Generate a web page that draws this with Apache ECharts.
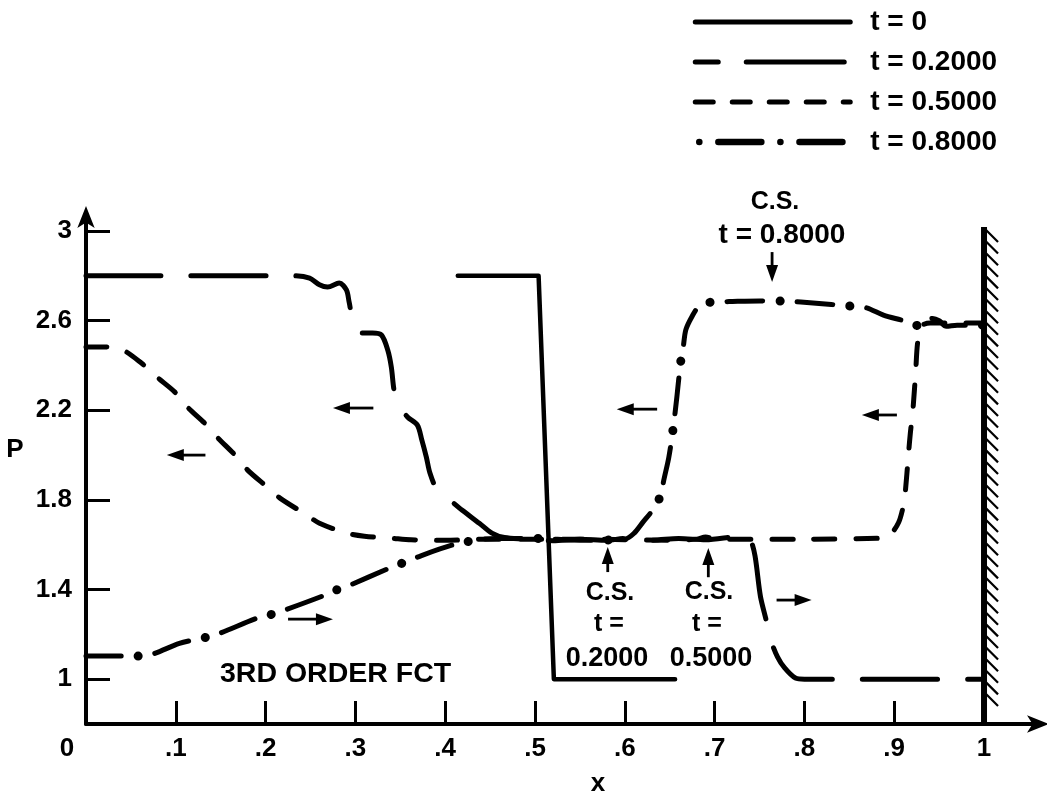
<!DOCTYPE html>
<html><head><meta charset="utf-8">
<script src="https://cdn.jsdelivr.net/npm/echarts@6/dist/echarts.min.js"></script>
<style>html,body{margin:0;padding:0;background:#fff}#c{width:1047px;height:792px}</style>
</head><body><div id="c"></div>
<script>
const seriesNames = ['t = 0', 't = 0.2000', 't = 0.5000', 't = 0.8000'];
const pT0 = [[0.414,2.8],[0.504,2.8],[0.521,1.0],[0.656,1.0]];
const pT02 = [[0,2.8],[0.232,2.8],[0.249,2.79],[0.26,2.76],[0.269,2.75],[0.282,2.768],[0.29,2.737],[0.293,2.683],[0.299,2.571],[0.308,2.545],[0.319,2.545],[0.329,2.536],[0.336,2.469],[0.34,2.393],[0.343,2.29],[0.347,2.23],[0.358,2.17],[0.369,2.134],[0.374,2.067],[0.379,1.991],[0.383,1.92],[0.391,1.844],[0.401,1.813],[0.419,1.754],[0.438,1.696],[0.452,1.652],[0.466,1.632],[0.49,1.625],[0.52,1.618],[0.55,1.625],[0.58,1.62],[0.6,1.628],[0.63,1.62],[0.66,1.628],[0.69,1.622],[0.72,1.635],[0.733,1.64],[0.74,1.62],[0.745,1.55],[0.751,1.37],[0.757,1.27],[0.763,1.17],[0.77,1.1],[0.778,1.05],[0.79,1.005],[0.8,1.0],[1.0,1.0]];
const pT05 = [[0,2.482],[0.021,2.482],[0.038,2.475],[0.062,2.41],[0.079,2.348],[0.099,2.281],[0.113,2.214],[0.132,2.143],[0.147,2.076],[0.166,2.0],[0.18,1.933],[0.202,1.857],[0.216,1.808],[0.246,1.732],[0.26,1.696],[0.29,1.652],[0.31,1.638],[0.34,1.629],[0.362,1.622],[0.4,1.62],[0.45,1.625],[0.55,1.625],[0.65,1.62],[0.68,1.625],[0.69,1.635],[0.7,1.625],[0.8,1.625],[0.89,1.63],[0.896,1.645],[0.905,1.7],[0.91,1.77],[0.912,1.82],[0.916,2.01],[0.918,2.1],[0.921,2.21],[0.924,2.38],[0.926,2.5],[0.93,2.575],[0.94,2.59],[1.0,2.59]];
const pT08 = [[0,1.103],[0.04,1.103],[0.058,1.103],[0.073,1.11],[0.104,1.16],[0.124,1.179],[0.143,1.196],[0.19,1.272],[0.204,1.286],[0.221,1.308],[0.266,1.375],[0.278,1.397],[0.291,1.415],[0.338,1.496],[0.347,1.509],[0.363,1.536],[0.412,1.603],[0.457,1.628],[0.5,1.628],[0.55,1.62],[0.6,1.625],[0.61,1.65],[0.62,1.7],[0.632,1.76],[0.641,1.83],[0.643,1.88],[0.649,1.99],[0.654,2.125],[0.658,2.26],[0.662,2.41],[0.665,2.48],[0.668,2.56],[0.675,2.62],[0.682,2.66],[0.697,2.683],[0.716,2.685],[0.75,2.688],[0.779,2.687],[0.796,2.683],[0.83,2.672],[0.868,2.658],[0.874,2.65],[0.888,2.625],[0.91,2.6],[0.927,2.578],[0.935,2.6],[0.943,2.61],[0.95,2.6],[0.958,2.575],[0.97,2.58],[1.0,2.58]];
const xTickValues = [0.1,0.2,0.3,0.4,0.5,0.6,0.7,0.8,0.9,1];
const xLabelValues = [0,0.1,0.2,0.3,0.4,0.5,0.6,0.7,0.8,0.9,1];
const xTickLabels = ['0','.1','.2','.3','.4','.5','.6','.7','.8','.9','1'];
const yTickValues = [1,1.4,1.8,2.2,2.6,3];
const yTickLabels = ['1','1.4','1.8','2.2','2.6','3'];
const wallData = [[1, 3.018, 0.89, 0.8]];
const arrowData = [[0.32,2.21,0.275,2.21],[0.133,2.0,0.09,2.0],[0.225,1.268,0.275,1.268],[0.636,2.205,0.591,2.205],[0.903,2.179,0.864,2.179],[0.769,1.353,0.808,1.353],[0.581,1.478,0.581,1.59],[0.693,1.455,0.693,1.585],[0.764,2.906,0.764,2.772]];

const FONT = 'Liberation Sans';
function lbl(vals, labels) {
  return v => { const i = vals.findIndex(t => Math.abs(t - v) < 1e-6); return i < 0 ? '' : labels[i]; };
}
const chart = echarts.init(document.getElementById('c'), null, {renderer: 'canvas'});
const baseLine = (name, data, type, extra) => Object.assign({
  name, type: 'line', data, symbol: 'none', smooth: 0.3, animation: false, silent: true, color: '#000',
  lineStyle: {color: '#000', width: 5, type, cap: 'round', join: 'round'}
}, extra || {});
const txt = (text, x, y, size, weight, align) => ({
  type: 'text', x, y, silent: true,
  style: {text, fill: '#000', font: (weight || 'bold') + ' ' + size + 'px "' + FONT + '"', textAlign: align || 'center', textVerticalAlign: 'middle'}
});
const hiddenSym = {color: 'rgba(0,0,0,0)', opacity: 0, borderWidth: 0};
chart.setOption({
  backgroundColor: '#fff',
  animation: false,
  grid: {left: 86, right: 10, top: 216, bottom: 68, containLabel: false, outerBoundsMode: 'none'},
  legend: {
    orient: 'vertical', left: 692, top: 8, padding: 0, itemWidth: 155, itemHeight: 14, itemGap: 12, selectedMode: false,
    textStyle: {fontFamily: FONT, fontWeight: 'bold', fontSize: 28, color: '#000', padding: [0, 0, 0, 15]},
    data: [
      {name: seriesNames[0], itemStyle: hiddenSym, lineStyle: {color: '#000', width: 5, type: 'solid', cap: 'round'}},
      {name: seriesNames[1], itemStyle: hiddenSym, lineStyle: {color: '#000', width: 5, type: [23, 28, 98, 28], cap: 'round'}},
      {name: seriesNames[2], itemStyle: hiddenSym, lineStyle: {color: '#000', width: 5, type: [18, 19], cap: 'round'}},
      {name: seriesNames[3], itemStyle: hiddenSym, lineStyle: {color: '#000', width: 6.5, type: [0.1, 19, 43, 19], cap: 'round', dashOffset: -4}}
    ]
  },
  xAxis: {
    type: 'value', min: 0, max: 1.059,
    axisLine: {onZero: false, lineStyle: {color: '#000', width: 4}, symbol: ['none', 'arrow'], symbolSize: [13, 22], symbolOffset: [0, 12]},
    axisTick: {inside: true, length: 23, lineStyle: {color: '#000', width: 3}, customValues: xTickValues},
    axisLabel: {customValues: xLabelValues, margin: 12, color: '#000', fontFamily: FONT, fontWeight: 'bold', fontSize: 26,
      formatter: v => { const s = lbl(xLabelValues, xTickLabels)(v); return Math.abs(v) < 1e-6 ? '{z|' + s + '}' : s; },
      rich: {z: {fontFamily: FONT, fontWeight: 'bold', fontSize: 26, color: '#000', padding: [0, 38, 0, 0]}}},
    splitLine: {show: false},
    name: 'x', nameLocation: 'middle', nameGap: 47,
    nameTextStyle: {fontFamily: FONT, fontWeight: 'bold', fontSize: 26, color: '#000', padding: [0, 0, 0, 73]}
  },
  yAxis: {
    type: 'value', min: 0.8, max: 3.067,
    axisLine: {onZero: false, lineStyle: {color: '#000', width: 4}, symbol: ['none', 'arrow'], symbolSize: [13, 22], symbolOffset: [0, 10]},
    axisTick: {inside: true, length: 24, lineStyle: {color: '#000', width: 3}, customValues: yTickValues},
    axisLabel: {customValues: yTickValues, margin: 14, color: '#000', fontFamily: FONT, fontWeight: 'bold', fontSize: 26,
      formatter: lbl(yTickValues, yTickLabels)},
    splitLine: {show: false}
  },
  graphic: [
    txt('P', 15, 450, 26),
    txt('3RD ORDER FCT', 220, 674, 28.5, 'bold', 'left'),
    txt('C.S.', 775, 202, 25),
    txt('t = 0.8000', 782, 235, 28),
    txt('C.S.', 610, 593, 25),
    txt('t =', 609, 624, 25),
    txt('0.2000', 607, 659, 27),
    txt('C.S.', 709, 592, 25),
    txt('t =', 707, 624, 25),
    txt('0.5000', 711, 659, 27)
  ],
  series: [
    baseLine(seriesNames[0], pT0, 'solid', {smooth: false, lineStyle: {color: '#000', width: 4.5, type: 'solid', cap: 'round', join: 'round'}}),
    baseLine(seriesNames[1], pT02, [75, 30]),
    baseLine(seriesNames[2], pT05, [21, 21]),
    baseLine(seriesNames[3], pT08, [0.1, 17, 36, 17], {lineStyle: {color: '#000', width: 5, type: [0.1, 17, 36, 17], dashOffset: 18, cap: 'round', join: 'round'}}),
    baseLine('t08dots', pT08, [0.1, 70], {lineStyle: {color: '#000', width: 9, type: [0.1, 70], dashOffset: 18, cap: 'round'}}),
    {
      type: 'custom', name: 'wall', data: wallData, clip: false, silent: true, animation: false,
      encode: {x: 0, y: [1, 3]},
      renderItem: (params, api) => {
        const top = api.coord([api.value(0), api.value(1)]);
        const hEnd = api.coord([api.value(0), api.value(2)]);
        const bot = api.coord([api.value(0), api.value(3)]);
        const children = [{type: 'line', shape: {x1: top[0], y1: top[1], x2: bot[0], y2: bot[1]}, style: {stroke: '#000', lineWidth: 6}}];
        for (let y = top[1] + 3; y <= hEnd[1]; y += 11.6) {
          children.push({type: 'line', shape: {x1: top[0] + 2, y1: y, x2: top[0] + 14, y2: y + 12}, style: {stroke: '#000', lineWidth: 2.2}});
        }
        return {type: 'group', children};
      }
    },
    {
      type: 'custom', name: 'arrows', data: arrowData, clip: false, silent: true, animation: false,
      encode: {x: [0, 2], y: [1, 3]},
      renderItem: (params, api) => {
        const p1 = api.coord([api.value(0), api.value(1)]);
        const p2 = api.coord([api.value(2), api.value(3)]);
        const dx = p2[0] - p1[0], dy = p2[1] - p1[1];
        const L = Math.hypot(dx, dy), ux = dx / L, uy = dy / L;
        const hl = 17, hw = 6;
        const bx = p2[0] - ux * hl, by = p2[1] - uy * hl;
        return {type: 'group', children: [
          {type: 'line', shape: {x1: p1[0], y1: p1[1], x2: bx + ux * 2, y2: by + uy * 2}, style: {stroke: '#000', lineWidth: 2.8}},
          {type: 'polygon', shape: {points: [[p2[0], p2[1]], [bx - uy * hw, by + ux * hw], [bx + uy * hw, by - ux * hw]]}, style: {fill: '#000'}}
        ]};
      }
    }
  ]
});
</script></body></html>
